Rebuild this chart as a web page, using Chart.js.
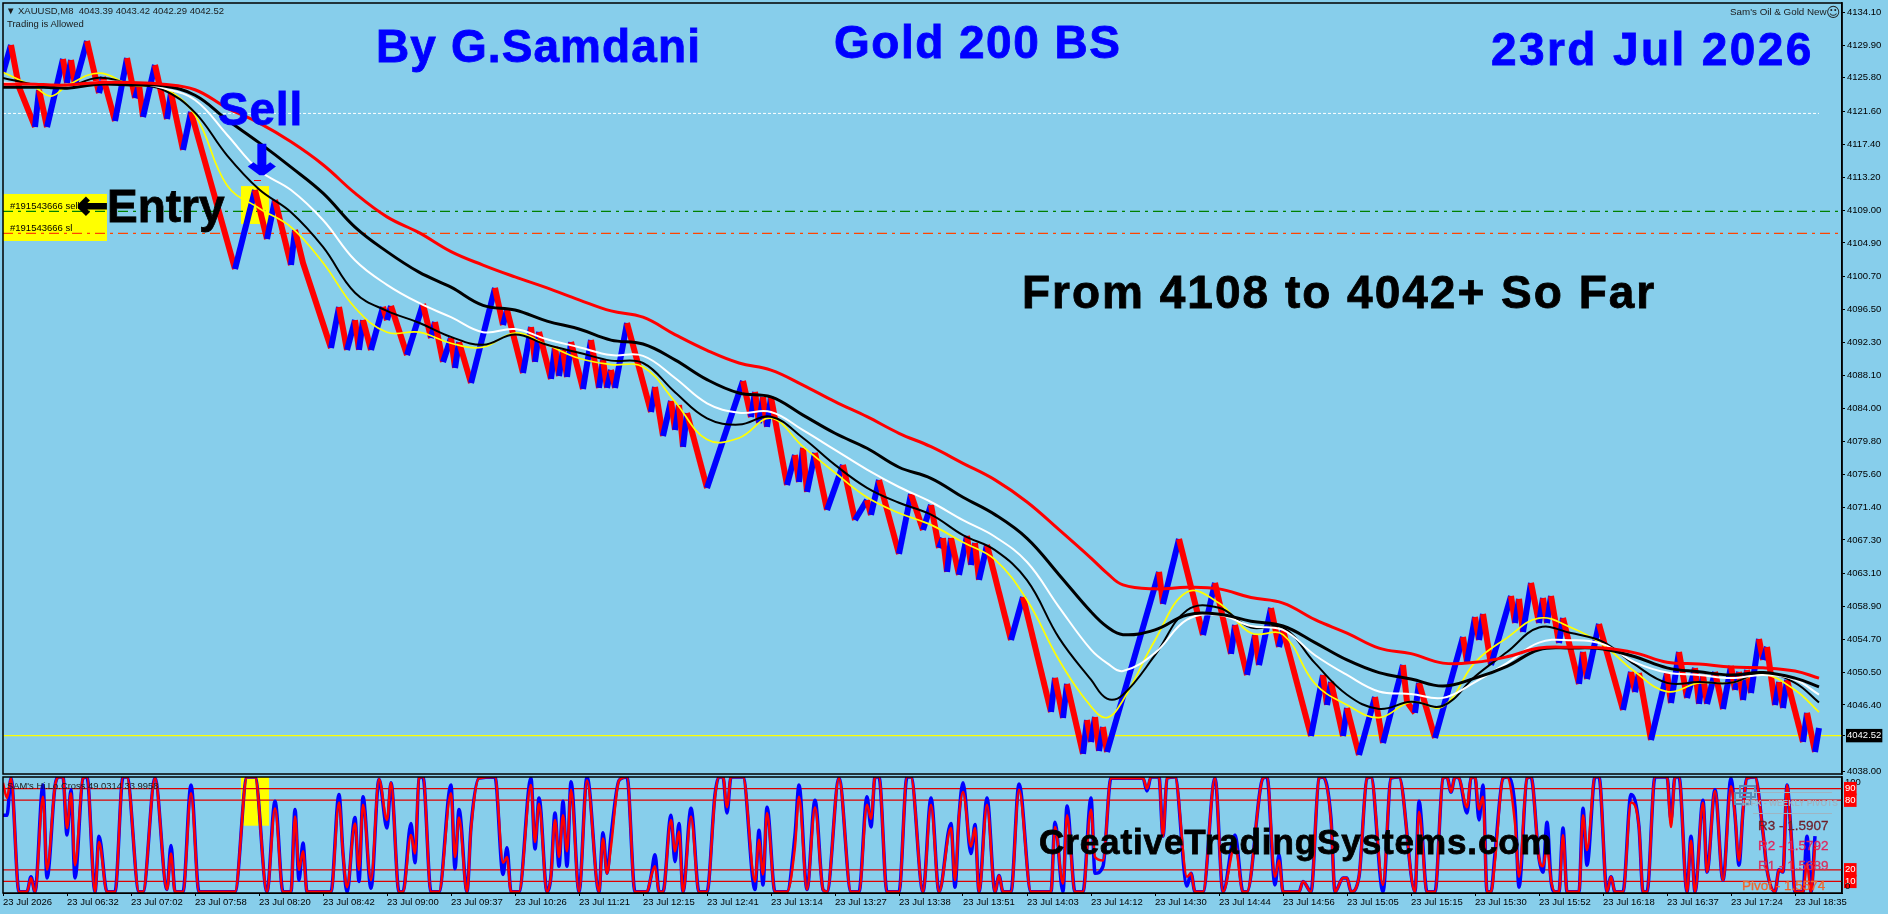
<!DOCTYPE html>
<html>
<head>
<meta charset="utf-8">
<title>Gold 200 BS</title>
<script src="https://cdn.jsdelivr.net/npm/chart.js@4"></script>
<style>
  html, body { margin: 0; padding: 0; background: #87ceeb; overflow: hidden; }
  #page { position: relative; width: 1888px; height: 914px; background: #87ceeb; }
  canvas { position: absolute; left: 0; top: 0; }
  #mainBox { position: absolute; left: 0; top: 0; width: 1888px; height: 775px; }
  #oscBox { position: absolute; left: 0; top: 775px; width: 1888px; height: 139px; }
  .t { position: absolute; white-space: nowrap; font-family: "Liberation Sans", Arial, sans-serif; line-height: 1; }
  .big { font-weight: bold; font-size: 46px; }
  .blue { color: #0000ff; -webkit-text-stroke: 0.8px #0000ff; }
  .blk { color: #000; -webkit-text-stroke: 0.8px #000; }
  .small { font-size: 9.5px; color: #1a1a1a; }
  .pivot { font-size: 13.5px; -webkit-text-stroke: 0.3px; }
</style>
</head>
<body>
<div id="page">
  <div id="mainBox"><canvas id="mainChart" width="1888" height="775"></canvas></div>
  <div id="oscBox"><canvas id="oscChart" width="1888" height="139"></canvas></div>

  <div class="t small" style="left:6px;top:6px;">▼</div>
  <div class="t small" style="left:18px;top:6px;">XAUUSD,M8&nbsp; 4043.39 4043.42 4042.29 4042.52</div>
  <div class="t small" style="left:7px;top:19px;">Trading is Allowed</div>
  <div class="t small" style="left:1730px;top:7px;font-size:9.8px;">Sam's Oil &amp; Gold New</div>
  <div class="t" style="left:1826px;top:4px;font:14px 'DejaVu Sans';color:#222;">☺</div>

  <div class="t big blue" style="left:376px;top:23px;letter-spacing:1.1px;">By G.Samdani</div>
  <div class="t big blue" style="left:834px;top:19px;letter-spacing:1.5px;">Gold 200 BS</div>
  <div class="t big blue" style="left:1491px;top:26px;letter-spacing:2.4px;">23rd Jul 2026</div>
  <div class="t big blue" style="left:218px;top:86px;letter-spacing:0.8px;">Sell</div>
  <div class="t" style="left:245px;top:137px;font:bold 40px 'DejaVu Sans';color:#0000ff;-webkit-text-stroke:2px #0000ff;transform:scaleX(1.35);">↓</div>
  <div class="t" style="left:254px;top:180px;width:7px;height:1px;background:#ff0000;"></div>

  <div class="t small" style="left:10px;top:201px;color:#000;">#191543666 sell</div>
  <div class="t small" style="left:10px;top:223px;color:#000;">#191543666 sl</div>
  <div class="t" style="left:77px;top:184px;font:bold 37px 'DejaVu Sans';color:#000;-webkit-text-stroke:2px #000;">←</div>
  <div class="t big blk" style="left:107px;top:183px;">Entry</div>

  <div class="t big blk" style="left:1022px;top:269px;letter-spacing:2px;">From 4108 to 4042+ So Far</div>

  <div class="t small" style="left:7px;top:781px;font-size:9.4px;">SAM's Hi.Lo.Cross 49.0314 33.9958</div>

  <div class="t" style="left:1739px;top:785px;width:13px;height:9px;border:2px solid #5b8db8;"></div>
  <div class="t" style="left:1734px;top:792px;width:14px;height:9px;border:2px solid #5b8db8;"></div>
  <div class="t" style="left:1753px;top:792px;width:79px;height:1px;background:#9fb4c2;"></div>
  <div class="t" style="left:1753px;top:813px;width:79px;height:1px;background:#9fb4c2;"></div>
  <div class="t" style="left:1742px;top:799px;font-size:8.5px;font-weight:bold;color:#9fb4c2;">IBFX - WEEKLY PIVOTS</div>
  <div class="t pivot" style="left:1758px;top:819px;color:#6e1f2a;">R3 - 1.5907</div>
  <div class="t pivot" style="left:1758px;top:839px;color:#e0245c;">R2 - 1.5792</div>
  <div class="t pivot" style="left:1758px;top:859px;color:#d8305c;">R1 - 1.5689</div>
  <div class="t pivot" style="left:1742px;top:879px;color:#f0662a;">Pivot - 1.5574</div>

  <div class="t blk" style="left:1039px;top:824px;font-size:35px;font-weight:bold;letter-spacing:0.9px;z-index:3;">CreativeTradingSystems.com</div>
</div>

<script>
// x axis labels, one every 16 bars
const timeLabels = ['23 Jul 2026', '23 Jul 06:32', '23 Jul 07:02', '23 Jul 07:58', '23 Jul 08:20', '23 Jul 08:42', '23 Jul 09:00', '23 Jul 09:37',
    '23 Jul 10:26', '23 Jul 11:21', '23 Jul 12:15', '23 Jul 12:41', '23 Jul 13:14', '23 Jul 13:27', '23 Jul 13:38', '23 Jul 13:51',
    '23 Jul 14:03', '23 Jul 14:12', '23 Jul 14:30', '23 Jul 14:44', '23 Jul 14:56', '23 Jul 15:05', '23 Jul 15:15', '23 Jul 15:30',
    '23 Jul 15:52', '23 Jul 16:18', '23 Jul 16:37', '23 Jul 17:24', '23 Jul 18:35'];

const priceTicks = [4134.10, 4129.90, 4125.80, 4121.60, 4117.40, 4113.20, 4109.00, 4104.90, 4100.70, 4096.50, 4092.30, 4088.10,
    4084.00, 4079.80, 4075.60, 4071.40, 4067.30, 4063.10, 4058.90, 4054.70, 4050.50, 4046.40, 4042.52, 4038.00];
const lastPrice = 4042.52;

// price swings: bar number and price of every turn
const swingBars = [0, 2, 4, 8, 9, 11, 15, 16, 17, 18, 21, 24, 25, 28, 31, 33, 34, 35, 38, 41, 42, 45, 47, 58, 63, 66, 68, 72, 73, 75,
    82, 84, 86, 88, 89, 90, 92, 95, 96, 97, 101, 105, 107, 108, 110, 112, 113, 114, 117, 123, 125, 126, 130, 132, 133, 134, 137, 138, 139, 140,
    141, 142, 145, 147, 149, 150, 151, 152, 153, 156, 162, 163, 165, 167, 168, 169, 170, 171, 176, 185, 187, 188, 189, 190, 191, 192, 196, 198, 199, 200,
    201, 203, 206, 210, 213, 216, 217, 219, 224, 227, 230, 232, 234, 235, 236, 237, 239, 241, 242, 243, 244, 246, 252, 255, 262, 263, 265, 266, 270, 271,
    272, 273, 274, 275, 276, 289, 290, 294, 300, 303, 307, 308, 311, 313, 314, 317, 319, 320, 327, 330, 331, 332, 335, 336, 339, 343, 345, 350, 351, 353,
    354, 358, 365, 366, 368, 369, 370, 372, 377, 378, 379, 380, 382, 384, 385, 386, 387, 389, 390, 394, 395, 396, 399, 405, 407, 408, 409, 412, 416, 417,
    419, 421, 423, 424, 425, 426, 428, 430, 432, 433, 434, 435, 436, 437, 439, 440, 441, 443, 444, 445, 446, 450, 451, 453, 454];
const swingPrices = [4126.42, 4129.96, 4124.64, 4119.58, 4124.27, 4119.58, 4128.19, 4125.15, 4128.06, 4124.90, 4130.47, 4123.89, 4125.91, 4120.34, 4128.32, 4123.25, 4124.90, 4120.85, 4127.43, 4120.59, 4123.89, 4116.67, 4121.48, 4101.60, 4111.60, 4105.40, 4110.34, 4102.11, 4106.54, 4102.36,
    4091.60, 4096.79, 4091.35, 4095.14, 4091.35, 4095.14, 4091.35, 4096.79, 4095.14, 4096.92, 4090.71, 4097.17, 4092.87, 4094.89, 4089.83, 4092.87, 4089.07, 4092.36, 4087.17, 4099.20, 4094.51, 4096.41, 4088.43, 4094.26, 4089.83, 4093.63, 4087.68, 4091.73, 4088.05, 4091.35,
    4087.93, 4092.36, 4086.41, 4092.61, 4086.54, 4090.08, 4086.54, 4088.81, 4086.54, 4094.76, 4083.50, 4086.66, 4080.46, 4084.89, 4081.22, 4084.38, 4079.07, 4083.37, 4073.87, 4087.42, 4082.86, 4086.03, 4082.10, 4085.40, 4081.60, 4085.40, 4074.25, 4078.05, 4074.63, 4078.94,
    4073.37, 4078.31, 4071.09, 4076.79, 4069.82, 4072.35, 4070.46, 4074.89, 4065.52, 4073.11, 4068.56, 4071.72, 4066.28, 4067.54, 4063.24, 4067.54, 4062.86, 4067.80, 4064.13, 4066.91, 4062.23, 4066.66, 4054.63, 4060.07, 4045.51, 4049.82, 4044.75, 4049.06, 4040.20, 4044.50,
    4041.72, 4044.88, 4040.58, 4043.61, 4040.45, 4063.24, 4059.19, 4067.42, 4055.26, 4061.85, 4052.86, 4056.53, 4050.20, 4055.26, 4051.46, 4058.68, 4053.74, 4055.90, 4042.47, 4050.20, 4046.40, 4049.31, 4042.47, 4046.02, 4040.07, 4047.41, 4041.59, 4051.46, 4046.78, 4045.39,
    4049.19, 4042.22, 4055.01, 4051.84, 4057.54, 4054.63, 4057.92, 4051.46, 4060.20, 4056.78, 4059.82, 4055.64, 4061.85, 4056.78, 4059.95, 4056.78, 4060.20, 4054.25, 4057.42, 4049.06, 4053.11, 4049.69, 4056.66, 4045.77, 4050.58, 4048.04, 4050.45, 4041.97, 4050.45, 4046.65,
    4053.11, 4047.29, 4051.08, 4046.53, 4050.20, 4046.53, 4050.58, 4045.89, 4051.34, 4048.30, 4050.58, 4047.03, 4050.83, 4047.92, 4054.76, 4052.10, 4053.74, 4046.40, 4049.31, 4046.02, 4049.57, 4041.72, 4045.39, 4040.45, 4043.49];

// moving averages, read at these bars
const maBars = [0, 8, 12, 16, 24, 32, 40, 48, 56, 64, 72, 80, 88, 96, 104, 112, 120, 128, 136, 144, 152, 160, 168, 176, 184, 192, 200, 208, 216, 224,
    232, 240, 248, 256, 264, 272, 276, 280, 288, 296, 304, 312, 320, 328, 336, 344, 352, 360, 368, 376, 384, 392, 400, 408, 416, 424, 432, 440, 448, 454];
const maYellow = [4126.5, 4124.6, 4123.5, 4124.8, 4126.4, 4124.9, 4124.5, 4121.1, 4112.2, 4109.3, 4106.9, 4102.4, 4096.7, 4093.6, 4093.6, 4092.2, 4091.7, 4093.5, 4092.0, 4090.3, 4089.5, 4089.2, 4084.8, 4080.0, 4080.2, 4082.7, 4079.1, 4075.8, 4072.7, 4070.7,
    4069.2, 4067.0, 4064.8, 4059.7, 4052.1, 4046.2, 4044.8, 4047.0, 4054.6, 4060.7, 4059.3, 4055.5, 4055.3, 4049.1, 4046.4, 4044.8, 4046.8, 4046.2, 4051.8, 4054.9, 4057.4, 4056.2, 4054.0, 4050.6, 4048.1, 4049.2, 4049.2, 4050.3, 4048.3, 4045.5];
const maThin = [4125.8, 4124.9, 4124.5, 4124.6, 4125.8, 4125.0, 4124.3, 4121.4, 4116.0, 4111.7, 4108.8, 4104.4, 4098.6, 4096.3, 4094.8, 4093.0, 4092.0, 4093.3, 4092.0, 4091.0, 4090.0, 4089.7, 4086.0, 4082.7, 4081.9, 4082.9, 4080.2, 4076.8, 4073.9, 4072.0,
    4070.5, 4067.9, 4066.0, 4062.2, 4054.9, 4049.6, 4047.2, 4047.7, 4052.7, 4058.4, 4058.7, 4056.2, 4056.2, 4051.7, 4047.7, 4045.9, 4046.8, 4046.3, 4050.0, 4053.1, 4056.2, 4055.5, 4054.4, 4051.5, 4049.2, 4049.3, 4049.2, 4050.5, 4049.2, 4046.7];
const maWhite = [4125.2, 4124.9, 4124.8, 4124.6, 4125.3, 4125.2, 4124.5, 4123.0, 4118.6, 4114.1, 4111.6, 4107.8, 4102.7, 4099.6, 4097.3, 4095.5, 4093.6, 4094.0, 4092.7, 4091.7, 4090.7, 4090.6, 4087.8, 4084.6, 4083.4, 4083.5, 4081.2, 4078.7, 4076.2, 4074.0,
    4072.1, 4069.8, 4067.7, 4064.5, 4058.8, 4053.4, 4051.7, 4050.7, 4053.0, 4057.2, 4057.8, 4056.4, 4055.9, 4052.7, 4050.2, 4048.1, 4047.8, 4047.3, 4049.3, 4051.7, 4054.3, 4054.6, 4054.1, 4051.8, 4050.5, 4050.2, 4049.8, 4050.2, 4049.6, 4047.7];
const maThick = [4124.6, 4124.6, 4124.6, 4124.5, 4125.0, 4124.9, 4124.8, 4123.6, 4120.5, 4117.6, 4114.5, 4111.2, 4106.9, 4103.8, 4101.2, 4099.3, 4097.0, 4096.4, 4095.0, 4094.0, 4092.6, 4092.1, 4090.1, 4087.6, 4085.9, 4085.4, 4083.1, 4080.8, 4078.9, 4076.5,
    4075.1, 4072.7, 4070.5, 4067.5, 4062.9, 4058.2, 4056.3, 4055.3, 4055.9, 4057.8, 4057.9, 4057.0, 4056.4, 4054.3, 4052.1, 4050.5, 4049.7, 4048.8, 4049.8, 4051.3, 4053.4, 4053.6, 4053.5, 4052.5, 4051.1, 4050.6, 4050.2, 4050.5, 4049.8, 4048.7];
const maRed = [4125.0, 4125.0, 4124.9, 4124.9, 4125.2, 4125.2, 4125.0, 4124.3, 4122.0, 4120.1, 4117.7, 4114.8, 4111.2, 4108.2, 4106.2, 4103.8, 4102.1, 4100.6, 4099.2, 4097.7, 4096.3, 4095.5, 4093.3, 4091.3, 4089.7, 4088.8, 4086.9, 4084.8, 4082.9, 4080.8,
    4079.1, 4077.0, 4074.9, 4072.1, 4068.6, 4065.0, 4063.1, 4061.6, 4061.1, 4061.3, 4061.1, 4060.0, 4059.3, 4057.2, 4055.5, 4053.6, 4052.9, 4051.7, 4051.8, 4052.5, 4053.6, 4053.7, 4053.6, 4053.0, 4051.8, 4051.6, 4051.2, 4051.1, 4050.7, 4049.8];

// horizontal price levels
const whiteLevel = 4121.3;
const entryLevel = 4108.9;
const stopLevel = 4106.1;

// oscillator turns, red signal and blue main line read at the same bars
const oscBars = [0, 1, 2, 4, 6, 7, 8, 10, 11, 13, 14, 15, 16, 17, 18, 20, 21, 23, 24, 26, 28, 30, 31, 34, 35, 38, 41, 42, 43, 45,
    47, 49, 58, 61, 63, 66, 68, 70, 72, 73, 74, 75, 76, 82, 84, 85, 86, 88, 89, 90, 92, 94, 96, 97, 99, 100, 102, 103, 104, 105,
    107, 109, 112, 113, 114, 116, 117, 119, 123, 125, 126, 127, 129, 132, 133, 134, 136, 137, 138, 139, 140, 141, 142, 144, 146, 149, 150, 151, 152, 154,
    156, 158, 161, 162, 163, 164, 165, 167, 168, 169, 170, 172, 174, 176, 178, 179, 180, 181, 182, 185, 188, 189, 190, 191, 193, 196, 198, 199, 201, 203,
    205, 206, 209, 212, 214, 216, 217, 218, 219, 221, 224, 226, 227, 230, 232, 234, 237, 238, 239, 240, 242, 243, 244, 246, 248, 249, 250, 252, 254, 257,
    262, 263, 265, 266, 268, 270, 272, 273, 275, 277, 285, 286, 287, 289, 290, 291, 293, 296, 297, 298, 300, 303, 305, 308, 310, 311, 315, 316, 318, 319,
    320, 324, 325, 327, 329, 330, 332, 333, 335, 336, 337, 339, 341, 342, 345, 347, 349, 353, 354, 356, 358, 360, 361, 362, 363, 364, 366, 367, 368, 369,
    370, 371, 372, 373, 375, 376, 378, 379, 381, 382, 384, 385, 386, 387, 388, 389, 390, 391, 394, 395, 396, 398, 399, 401, 402, 403, 405, 407, 409, 410,
    411, 413, 416, 417, 418, 419, 421, 422, 423, 425, 426, 428, 430, 432, 433, 434, 435, 436, 438, 440, 441, 443, 444, 445, 446, 447, 448, 450, 451, 452, 453];
const oscRed = [95, 82, 99, 1, 1, 13, 1, 83, 20, 92, 100, 100, 56, 86, 24, 99, 100, 1, 44, 1, 1, 100, 100, 1, 1, 99, 3, 34, 1, 1,
    86, 1, 1, 100, 100, 1, 73, 1, 1, 66, 20, 36, 1, 1, 78, 34, 5, 60, 20, 76, 11, 98, 63, 95, 1, 1, 50, 34, 99, 100,
    1, 1, 86, 31, 65, 1, 55, 99, 100, 26, 31, 1, 1, 93, 44, 77, 1, 15, 63, 31, 67, 36, 89, 1, 97, 1, 47, 17, 40, 97,
    100, 1, 1, 14, 23, 1, 1, 63, 36, 53, 1, 66, 1, 1, 83, 100, 100, 74, 100, 100, 10, 46, 16, 69, 1, 1, 40, 83, 3, 74,
    3, 1, 99, 1, 1, 76, 64, 100, 100, 1, 1, 100, 100, 1, 76, 1, 56, 11, 66, 87, 40, 56, 1, 76, 1, 15, 1, 1, 89, 1,
    1, 57, 8, 67, 1, 1, 72, 31, 28, 99, 99, 90, 100, 100, 49, 99, 100, 14, 17, 1, 1, 99, 1, 41, 1, 1, 99, 100, 14, 28,
    1, 1, 10, 1, 99, 100, 62, 1, 13, 13, 1, 14, 99, 100, 7, 99, 100, 1, 70, 1, 1, 99, 100, 87, 100, 99, 74, 99, 100, 72,
    83, 1, 1, 28, 99, 100, 60, 14, 99, 100, 30, 23, 39, 11, 1, 1, 50, 1, 1, 67, 37, 100, 100, 1, 14, 1, 1, 78, 57, 1,
    1, 100, 100, 57, 100, 100, 1, 45, 1, 78, 18, 88, 11, 92, 67, 28, 71, 99, 100, 52, 20, 1, 20, 18, 93, 52, 1, 1, 25, 1, 42];
const oscBlue = [67, 67, 99, 1, 1, 14, 1, 93, 13, 92, 100, 100, 50, 89, 13, 99, 100, 1, 49, 1, 1, 100, 100, 1, 1, 99, 3, 41, 1, 1,
    93, 1, 1, 100, 100, 1, 79, 1, 1, 72, 11, 43, 1, 1, 85, 34, 1, 65, 10, 83, 4, 98, 56, 95, 1, 1, 60, 26, 99, 100,
    1, 1, 93, 21, 72, 1, 57, 99, 100, 16, 39, 1, 1, 99, 38, 82, 1, 15, 69, 23, 79, 23, 96, 1, 100, 1, 52, 17, 49, 97,
    100, 1, 1, 14, 33, 1, 1, 67, 27, 60, 1, 73, 1, 1, 85, 100, 100, 69, 100, 100, 3, 54, 7, 74, 1, 1, 50, 93, 3, 80,
    3, 1, 99, 1, 1, 83, 57, 100, 100, 1, 1, 100, 100, 1, 82, 1, 60, 5, 66, 95, 34, 59, 1, 82, 1, 15, 1, 1, 94, 1,
    1, 61, 1, 75, 1, 1, 82, 17, 23, 99, 99, 88, 100, 100, 49, 99, 100, 6, 17, 1, 1, 99, 1, 50, 1, 1, 99, 100, 7, 33,
    1, 1, 10, 1, 99, 100, 64, 1, 13, 13, 1, 14, 99, 100, 1, 99, 100, 1, 79, 1, 1, 99, 100, 87, 100, 99, 69, 99, 100, 63,
    93, 1, 1, 34, 99, 100, 74, 5, 99, 100, 30, 18, 61, 11, 1, 1, 56, 1, 1, 73, 24, 100, 100, 1, 14, 1, 1, 85, 57, 1,
    1, 100, 100, 63, 100, 100, 1, 49, 1, 80, 18, 89, 11, 99, 67, 24, 71, 99, 100, 52, 20, 1, 20, 18, 93, 52, 1, 1, 49, 1, 49];
const oscLevels = [90, 80, 20, 10];
const oscTicks = [95, 90, 80, 20, 10, 6];
const oscTickText = ['100', '90', '80', '20', '10', '0'];

const barMax = 459.75;
const axisFont = { family: '"Liberation Sans", Arial, sans-serif', size: 9.5 };
const pairs = (xs, ys) => xs.map((x, i) => ({ x: x, y: ys[i] }));
const level = (y) => [{ x: 0, y: y }, { x: barMax, y: y }];

// chart.js adds room for half a label at the axis ends, the plot has to keep its full height
const noAxisMargins = (scale) => {
    scale.paddingTop = 0;
    scale.paddingBottom = 0;
    scale.paddingLeft = 0;
    scale.paddingRight = 0;
};

// yellow marks under the lines and the black frame around each panel
const panelPlugin = {
    id: 'panel',
    beforeDatasetsDraw(chart, args, opts) {
        const { ctx, scales } = chart;
        ctx.save();
        ctx.fillStyle = '#ffff00';
        opts.boxes.forEach((b) => {
            const x0 = scales.x.getPixelForValue(b[0]);
            const x1 = scales.x.getPixelForValue(b[1]);
            const y0 = scales.y.getPixelForValue(b[2]);
            const y1 = scales.y.getPixelForValue(b[3]);
            ctx.fillRect(x0, y0, x1 - x0, y1 - y0);
        });
        ctx.restore();
    },
    afterDraw(chart) {
        const { ctx, chartArea: a } = chart;
        ctx.save();
        ctx.strokeStyle = '#000';
        ctx.lineWidth = 1.5;
        ctx.strokeRect(a.left, a.top, a.right - a.left, a.bottom - a.top);
        ctx.restore();
    }
};

new Chart(document.getElementById('mainChart'), {
    type: 'line',
    plugins: [panelPlugin],
    data: {
        datasets: [
            { data: pairs(maBars, maRed), borderColor: '#ff0000', borderWidth: 3, tension: 0.4, order: 1 },
            { data: pairs(maBars, maThick), borderColor: '#000000', borderWidth: 3, tension: 0.4, order: 2 },
            { data: pairs(maBars, maWhite), borderColor: '#ffffff', borderWidth: 2, tension: 0.4, order: 3 },
            { data: pairs(maBars, maThin), borderColor: '#000000', borderWidth: 2, tension: 0.4, order: 4 },
            { data: pairs(maBars, maYellow), borderColor: '#ffff00', borderWidth: 1.7, tension: 0.4, order: 5 },
            {
                data: pairs(swingBars, swingPrices), borderWidth: 6, order: 6, borderCapStyle: 'butt',
                segment: { borderColor: (c) => (c.p1.parsed.y >= c.p0.parsed.y ? '#0000ff' : '#ff0000') }
            },
            { data: level(lastPrice), borderColor: '#ffff00', borderWidth: 1.3, order: 7 },
            { data: [{ x: 0, y: whiteLevel }, { x: 454, y: whiteLevel }], borderColor: '#ffffff', borderWidth: 1, borderDash: [3, 2], order: 8 },
            { data: level(entryLevel), borderColor: '#008000', borderWidth: 1.2, borderDash: [10, 5, 3, 5], order: 9 },
            { data: level(stopLevel), borderColor: '#ff4500', borderWidth: 1.2, borderDash: [10, 5, 3, 5], order: 10 }
        ]
    },
    options: {
        responsive: false,
        animation: false,
        events: [],
        elements: { point: { radius: 0 }, line: { fill: false } },
        layout: { padding: { left: 3, top: 3, bottom: 1, right: 0 } },
        plugins: {
            legend: { display: false },
            tooltip: { enabled: false },
            panel: { boxes: [[0, 26, 4111.1, 4105.15], [59.5, 66.5, 4112.1, 4107.3]] }
        },
        scales: {
            x: { type: 'linear', display: false, min: 0, max: barMax },
            y: {
                position: 'right',
                min: 4037.66,
                max: 4135.28,
                afterBuildTicks: (scale) => { scale.ticks = priceTicks.map((v) => ({ value: v })); },
                afterFit: (scale) => { scale.width = 46; noAxisMargins(scale); },
                grid: { drawOnChartArea: false, tickLength: 3, tickColor: '#000' },
                border: { color: '#000', width: 1.5 },
                ticks: {
                    font: axisFont,
                    padding: 2,
                    autoSkip: false,
                    color: (c) => (c.tick.value === lastPrice ? '#fff' : '#000'),
                    showLabelBackdrop: (c) => c.tick.value === lastPrice,
                    backdropColor: (c) => (c.tick.value === lastPrice ? '#000' : 'transparent'),
                    backdropPadding: 1,
                    callback: (v) => Number(v).toFixed(2)
                }
            }
        }
    }
});

new Chart(document.getElementById('oscChart'), {
    type: 'line',
    plugins: [panelPlugin],
    data: {
        datasets: [
            { data: pairs(oscBars, oscRed), borderColor: '#ff0000', borderWidth: 2.5, cubicInterpolationMode: 'monotone', order: 1 },
            { data: pairs(oscBars, oscBlue), borderColor: '#0000ff', borderWidth: 3.5, cubicInterpolationMode: 'monotone', order: 2 },
            ...oscLevels.map((l) => ({ data: level(l), borderColor: '#e00000', borderWidth: 1.2, order: 3 }))
        ]
    },
    options: {
        responsive: false,
        animation: false,
        events: [],
        elements: { point: { radius: 0 }, line: { fill: false } },
        layout: { padding: { left: 3, top: 2, bottom: 0, right: 0 } },
        plugins: {
            legend: { display: false },
            tooltip: { enabled: false },
            panel: { boxes: [[59.5, 66.5, 100, 58]] }
        },
        scales: {
            x: {
                type: 'linear',
                min: 0,
                max: barMax,
                afterBuildTicks: (scale) => { scale.ticks = timeLabels.map((t, i) => ({ value: i * 16 })); },
                afterFit: (scale) => { scale.height = 21; noAxisMargins(scale); },
                grid: { drawOnChartArea: false, tickLength: 3, tickColor: '#000' },
                border: { color: '#000', width: 1 },
                ticks: {
                    font: axisFont,
                    color: '#000',
                    padding: 1,
                    align: 'start',
                    maxRotation: 0,
                    autoSkip: false,
                    callback: (v) => timeLabels[v / 16]
                }
            },
            y: {
                position: 'right',
                min: 0,
                max: 100,
                afterBuildTicks: (scale) => { scale.ticks = oscTicks.map((v) => ({ value: v })); },
                afterFit: (scale) => { scale.width = 46; noAxisMargins(scale); },
                grid: { drawOnChartArea: false, drawTicks: false },
                border: { color: '#000', width: 1.5 },
                ticks: {
                    font: axisFont,
                    padding: 3,
                    autoSkip: false,
                    color: (c) => (oscLevels.includes(c.tick.value) ? '#fff' : '#000'),
                    showLabelBackdrop: (c) => oscLevels.includes(c.tick.value),
                    backdropColor: (c) => (oscLevels.includes(c.tick.value) ? '#ff0000' : 'transparent'),
                    backdropPadding: 1,
                    callback: (v) => oscTickText[oscTicks.indexOf(v)]
                }
            }
        }
    }
});
</script>
</body>
</html>
